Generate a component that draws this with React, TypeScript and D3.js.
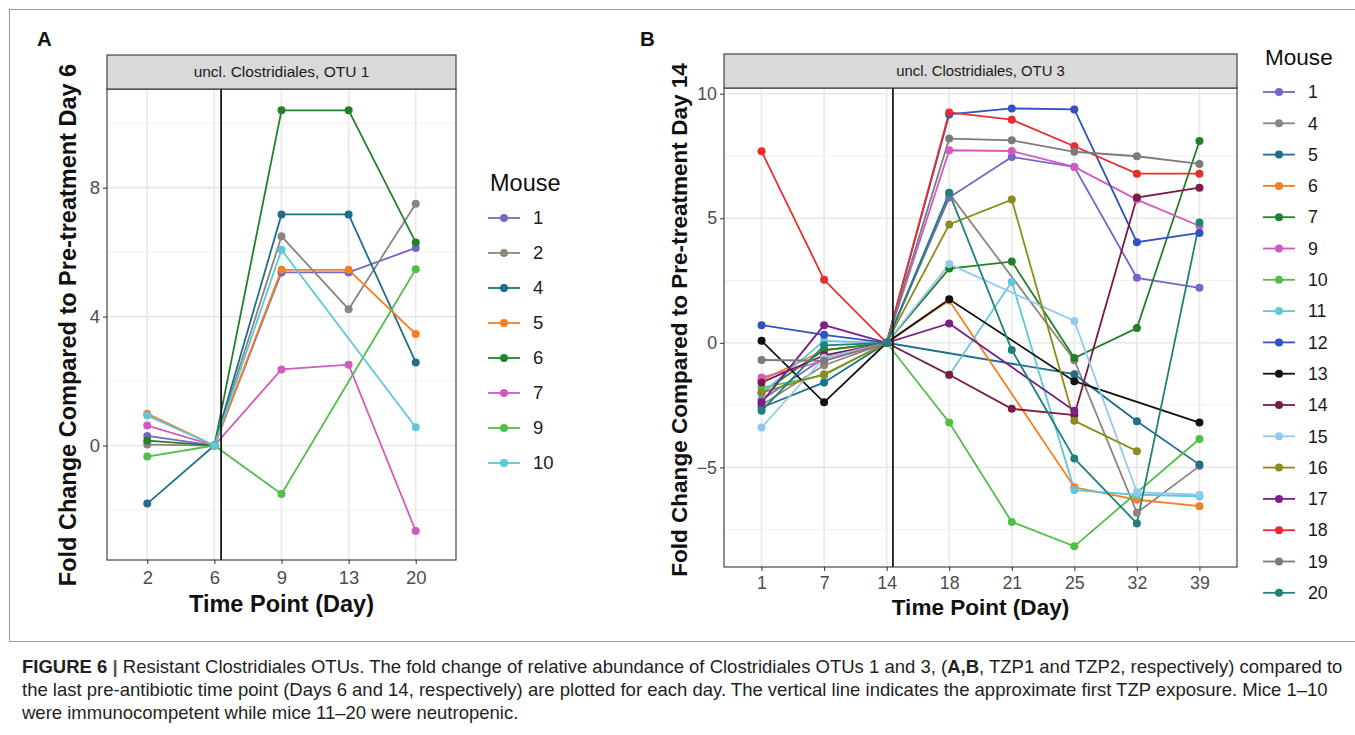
import * as d3 from 'd3';
import React, { useEffect, useRef } from 'react';

// Panel A: uncl. Clostridiales, OTU 1
const daysA = ['2', '6', '9', '13', '20'];
const miceA = ['1', '2', '4', '5', '6', '7', '9', '10'];
const valuesA: (number | null)[][] = [
  [0.3, 0, 5.37, 5.37, 6.13],
  [0.03, 0, 6.49, 4.23, 7.5],
  [-1.8, 0, 7.17, 7.17, 2.58],
  [0.99, 0, 5.45, 5.45, 3.46],
  [0.15, 0, 10.4, 10.4, 6.3],
  [0.62, 0, 2.36, 2.51, -2.65],
  [-0.34, 0, -1.5, null, 5.47],
  [0.93, 0, 6.07, null, 0.57],
];
const ticksA = [0, 4, 8];

// Panel B: uncl. Clostridiales, OTU 3
const daysB = ['1', '7', '14', '18', '21', '25', '32', '39'];
const miceB = ['1', '4', '5', '6', '7', '9', '10', '11', '12', '13', '14', '15', '16', '17', '18', '19', '20'];
const valuesB: (number | null)[][] = [
  [-2.3, -0.6, 0, 5.83, 7.46, 7.06, 2.61, 2.21],
  [-2.5, -0.9, 0, 6.0, null, -0.7, -6.82, -4.95],
  [-2.6, -1.59, 0, null, null, -1.26, -3.15, -4.89],
  [-1.5, -0.3, 0, 1.7, null, -5.8, -6.3, -6.56],
  [-2.0, -0.29, 0, 2.98, 3.26, -0.61, 0.59, 8.1],
  [-1.39, -0.72, 0, 7.73, 7.7, 7.06, 5.75, 4.69],
  [-1.8, -1.3, 0, -3.2, -7.19, -8.17, null, -3.86],
  [-2.03, 0.08, 0, -1.3, 2.45, -5.91, -6.1, -6.16],
  [0.71, 0.32, 0, 9.17, 9.41, 9.37, 4.04, 4.41],
  [0.08, -2.39, 0, 1.75, null, -1.54, null, -3.2],
  [-1.59, -0.5, 0, -1.28, -2.65, -2.9, 5.83, 6.23],
  [-3.4, -0.6, 0, 3.16, null, 0.88, -6.0, -6.1],
  [-2.0, -1.26, 0, 4.75, 5.75, -3.13, -4.35, null],
  [-2.4, 0.71, 0, 0.78, null, -2.73, null, null],
  [7.69, 2.53, 0, 9.25, 8.96, 7.89, 6.79, 6.79],
  [-0.69, -0.72, 0, 8.2, 8.13, 7.67, 7.49, 7.18],
  [-2.73, -0.1, 0, 6.02, -0.29, -4.64, -7.25, 4.83],
];
const ticksB = [-5, 0, 5, 10];

const palette = [
  '#7466c6', '#8c857c', '#1f6e8c', '#f57f22', '#247f2c', '#d15ac2', '#4fbf47', '#5cc8d8',
  '#3050c4', '#111111', '#7b1947', '#94c9ef', '#8b8b1f', '#7a2189', '#ec2b2b', '#7b7b7b', '#20807b',
];

const font = '"Liberation Sans", Arial, Helvetica, sans-serif';

interface PanelCfg {
  days: string[];
  baseDay: string;
  mice: string[];
  values: (number | null)[][];
  ticks: number[];
  domain: [number, number];
  box: { left: number; right: number; top: number; bottom: number; stripTop: number };
  strip: string;
  yTitle: string;
  yTitleX: number;
  yTitleY: number;
  xTitleY: number;
  tickLabelY: number;
  letter: string;
  letterX: number;
  fs: number;
  legend: { x: number; titleY: number; firstY: number; step: number };
}

const drawPanel = (svg: any, c: PanelCfg) => {
  const { left, right, top, bottom, stripTop } = c.box;
  const x = d3.scalePoint<string>().domain(c.days).range([left, right]).padding(0.6);
  const y = d3.scaleLinear().domain(c.domain).range([bottom, top]);
  const g = svg.append('g');

  g.append('rect').attr('x', left).attr('y', top).attr('width', right - left)
    .attr('height', bottom - top).attr('fill', '#fff');

  // minor grid
  const minor: number[] = [];
  const step = c.ticks[1] - c.ticks[0];
  for (let i = -1; i < c.ticks.length + 1; i++) {
    const v = c.ticks[0] + step / 2 + i * step;
    if (v > c.domain[0] && v < c.domain[1]) minor.push(v);
  }
  g.selectAll('.minor').data(minor).enter().append('line')
    .attr('x1', left).attr('x2', right)
    .attr('y1', (d: number) => y(d)).attr('y2', (d: number) => y(d))
    .attr('stroke', '#f0f0f0').attr('stroke-width', 1);
  g.selectAll('.majy').data(c.ticks).enter().append('line')
    .attr('x1', left).attr('x2', right)
    .attr('y1', (d: number) => y(d)).attr('y2', (d: number) => y(d))
    .attr('stroke', '#e8e8e8').attr('stroke-width', 1.6);
  g.selectAll('.majx').data(c.days).enter().append('line')
    .attr('y1', top).attr('y2', bottom)
    .attr('x1', (d: string) => x(d)).attr('x2', (d: string) => x(d))
    .attr('stroke', '#e8e8e8').attr('stroke-width', 1.6);

  // vertical exposure line, just after the last pre-treatment day
  const vx = (x(c.baseDay) as number) + 0.1 * x.step();

  const series = c.mice.map((m, i) => ({
    id: m,
    color: palette[i],
    pts: c.values[i].map((v, j) => ({ day: c.days[j], v })).filter((p) => p.v !== null) as { day: string; v: number }[],
  }));

  const line = d3.line<{ day: string; v: number }>()
    .x((d) => x(d.day) as number)
    .y((d) => y(d.v));

  series.forEach((s) => {
    g.append('path').datum(s.pts).attr('d', line).attr('fill', 'none')
      .attr('stroke', s.color).attr('stroke-width', 1.8);
  });

  g.append('line').attr('x1', vx).attr('x2', vx).attr('y1', top).attr('y2', bottom)
    .attr('stroke', '#1a1a1a').attr('stroke-width', 1.8);

  series.forEach((s) => {
    g.selectAll(null).data(s.pts).enter().append('circle')
      .attr('cx', (d: any) => x(d.day)).attr('cy', (d: any) => y(d.v))
      .attr('r', 4).attr('fill', s.color);
  });

  // panel border + strip
  g.append('rect').attr('x', left).attr('y', top).attr('width', right - left)
    .attr('height', bottom - top).attr('fill', 'none').attr('stroke', '#333').attr('stroke-width', 1.1);
  g.append('rect').attr('x', left).attr('y', stripTop).attr('width', right - left)
    .attr('height', top - stripTop).attr('fill', '#d9d9d9').attr('stroke', '#333').attr('stroke-width', 1.1);
  g.append('text').attr('x', (left + right) / 2).attr('y', (stripTop + top) / 2)
    .attr('dy', '0.35em')
    .attr('text-anchor', 'middle').attr('font-size', 15.5 * c.fs).attr('fill', '#1a1a1a')
    .attr('font-family', font).text(c.strip);

  // y axis
  const ya = g.append('g').attr('transform', `translate(${left},0)`)
    .call(d3.axisLeft(y).tickValues(c.ticks).tickSize(4).tickPadding(3).tickFormat(d3.format('d')));
  ya.select('.domain').remove();
  ya.selectAll('line').attr('stroke', '#333');
  ya.selectAll('text').attr('font-size', 18.5 * c.fs).attr('fill', '#4d4d4d').attr('font-family', font);

  // x axis
  const xa = g.append('g').attr('transform', `translate(0,${bottom})`)
    .call(d3.axisBottom(x).tickSize(4).tickPadding(4));
  xa.select('.domain').remove();
  xa.selectAll('line').attr('stroke', '#333');
  xa.selectAll('text').attr('font-size', 18.5 * c.fs).attr('fill', '#4d4d4d').attr('font-family', font)
    .attr('y', c.tickLabelY - bottom).attr('dy', '0.35em');

  g.append('text').attr('x', (left + right) / 2).attr('y', c.xTitleY)
    .attr('text-anchor', 'middle').attr('font-size', 23.5 * c.fs).attr('font-weight', 'bold')
    .attr('font-family', font).attr('fill', '#111').attr('dy', '0.35em').text('Time Point (Day)');
  g.append('text').attr('transform', `translate(${c.yTitleX},${c.yTitleY}) rotate(-90)`)
    .attr('text-anchor', 'middle').attr('font-size', 23.5 * c.fs).attr('font-weight', 'bold')
    .attr('font-family', font).attr('fill', '#111').attr('dy', '0.35em').text(c.yTitle);

  g.append('text').attr('x', c.letterX).attr('y', 46).attr('font-size', 20.5).attr('font-weight', 'bold')
    .attr('font-family', font).attr('fill', '#111').text(c.letter);

  // legend
  const lg = g.append('g');
  lg.append('text').attr('x', c.legend.x).attr('y', c.legend.titleY).attr('dy', '0.35em')
    .attr('font-size', 23.5 * c.fs).attr('font-family', font).attr('fill', '#111').text('Mouse');
  series.forEach((s, i) => {
    const ly = c.legend.firstY + i * c.legend.step;
    lg.append('line').attr('x1', c.legend.x - 2).attr('x2', c.legend.x + 30).attr('y1', ly).attr('y2', ly)
      .attr('stroke', s.color).attr('stroke-width', 1.8);
    lg.append('circle').attr('cx', c.legend.x + 14).attr('cy', ly).attr('r', 4).attr('fill', s.color);
    lg.append('text').attr('x', c.legend.x + 43).attr('y', ly).attr('dy', '0.35em')
      .attr('font-size', 18.5 * c.fs).attr('font-family', font).attr('fill', '#1a1a1a').text(s.id);
  });
};

const App = () => {
  const ref = useRef<SVGSVGElement>(null);

  useEffect(() => {
    const svg = d3.select(ref.current);
    svg.selectAll('*').remove();

    svg.append('rect').attr('x', 9.5).attr('y', 9.5).attr('width', 1400).attr('height', 632)
      .attr('fill', 'none').attr('stroke', '#9a9a9a').attr('stroke-width', 1);

    drawPanel(svg, {
      days: daysA, baseDay: '6', mice: miceA, values: valuesA, ticks: ticksA, domain: [-3.55, 11.06],
      box: { left: 107, right: 456, top: 89, bottom: 560, stripTop: 55 },
      strip: 'uncl. Clostridiales, OTU 1',
      yTitle: 'Fold Change Compared to Pre-treatment Day 6',
      yTitleX: 68, yTitleY: 325, xTitleY: 604, tickLabelY: 578, letter: 'A', letterX: 37, fs: 1,
      legend: { x: 490, titleY: 183, firstY: 218, step: 35 },
    });
    drawPanel(svg, {
      days: daysB, baseDay: '14', mice: miceB, values: valuesB, ticks: ticksB, domain: [-9.0, 10.23],
      box: { left: 724, right: 1237, top: 88, bottom: 567, stripTop: 54 },
      strip: 'uncl. Clostridiales, OTU 3',
      yTitle: 'Fold Change Compared to Pre-treatment Day 14',
      yTitleX: 679, yTitleY: 320, xTitleY: 607, tickLabelY: 583, letter: 'B', letterX: 640, fs: 0.96,
      legend: { x: 1265, titleY: 57, firstY: 92, step: 31.3 },
    });

    // caption
    const cap = svg.append('g').attr('font-family', font).attr('font-size', 18.5).attr('fill', '#231f20');
    const l1 = cap.append('text').attr('x', 22).attr('y', 673);
    l1.append('tspan').attr('font-weight', 'bold').text('FIGURE 6');
    l1.append('tspan').attr('font-weight', 'bold').attr('fill', '#555').text(' | ');
    l1.append('tspan').text('Resistant Clostridiales OTUs. The fold change of relative abundance of Clostridiales OTUs 1 and 3, (');
    l1.append('tspan').attr('font-weight', 'bold').text('A,B');
    l1.append('tspan').text(', TZP1 and TZP2, respectively) compared to');
    cap.append('text').attr('x', 22).attr('y', 696)
      .text('the last pre-antibiotic time point (Days 6 and 14, respectively) are plotted for each day. The vertical line indicates the approximate first TZP exposure. Mice 1–10');
    cap.append('text').attr('x', 22).attr('y', 719)
      .text('were immunocompetent while mice 11–20 were neutropenic.');
  }, []);

  return (
    <svg ref={ref} width={1355} height={735}
      style={{ position: 'absolute', left: 0, top: 0, background: '#fff' }} />
  );
};

export default App;
